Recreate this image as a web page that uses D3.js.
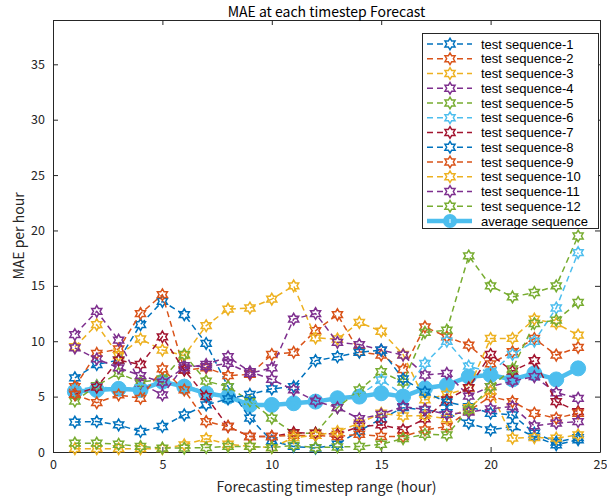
<!DOCTYPE html>
<html><head><meta charset="utf-8">
<script src="https://cdn.jsdelivr.net/npm/d3@7"></script>
<style>
body{margin:0;background:#fff;}
svg{font-family:"Noto Sans CJK JP","Noto Sans",sans-serif;}
</style></head>
<body><svg id="c" width="607" height="500"></svg>
<script>
const steps = d3.range(1, 25);
const xTicks = [0, 5, 10, 15, 20, 25];
const yTicks = [0, 5, 10, 15, 20, 25, 30, 35];
const seriesNames = ["test sequence-1","test sequence-2","test sequence-3","test sequence-4","test sequence-5","test sequence-6","test sequence-7","test sequence-8","test sequence-9","test sequence-10","test sequence-11","test sequence-12"];
const seriesColors = ["#0072BD","#D95319","#EDB120","#7E2F8E","#77AC30","#4DBEEE","#A2142F","#0072BD","#D95319","#EDB120","#7E2F8E","#77AC30"];
const seq1  = [6.7,7.9,8.3,11.5,13.6,12.4,9.8,5.9,3.05,1.0,0.5,0.35,0.7,1.9,3.0,4.0,3.8,3.55,2.6,2.0,2.3,1.4,0.65,1.1];
const seq2  = [5.9,8.9,9.3,12.5,14.2,7.4,7.6,6.9,7.0,8.8,9.0,10.95,12.4,9.05,8.75,7.45,11.3,10.4,9.65,7.95,9.05,10.25,8.75,9.45];
const seq3  = [9.5,11.5,8.7,10.2,9.2,8.7,11.4,12.9,13.0,13.8,15.0,10.3,10.2,11.7,10.9,8.8,4.7,5.2,5.75,10.25,10.25,12.0,11.6,10.55];
const seq4  = [10.6,12.7,10.1,6.2,5.15,7.8,7.7,8.0,7.1,7.6,12.0,12.5,9.9,9.7,9.2,8.75,6.95,7.1,5.05,5.9,6.4,6.8,5.35,4.85];
const seq5  = [4.6,6.0,7.1,6.3,6.6,8.8,6.4,5.9,4.6,3.05,1.7,1.7,4.0,5.6,7.25,6.3,10.8,11.0,17.7,15.0,14.0,14.4,15.0,19.5];
const seq6  = [5.6,5.9,5.7,5.8,6.4,6.0,5.4,5.1,4.3,4.2,4.5,4.5,4.9,5.1,6.5,5.2,8.0,10.0,7.75,7.2,8.8,10.0,13.0,18.0];
const seq7  = [5.2,5.85,8.3,7.9,10.4,7.4,5.0,2.3,1.4,1.4,1.75,1.7,1.6,2.3,2.45,2.0,3.0,4.7,5.8,8.8,7.3,8.25,4.55,3.65];
const seq8  = [2.7,2.75,2.45,1.85,2.3,3.35,4.25,4.8,5.2,5.7,5.9,8.25,8.6,9.0,9.2,6.6,5.4,4.5,4.1,3.5,3.35,1.7,0.9,1.3];
const seq9  = [5.2,4.45,5.15,4.85,7.5,5.6,2.75,2.3,1.4,1.4,1.5,1.5,1.4,1.6,1.4,1.4,2.0,2.3,3.7,5.0,4.55,3.5,3.05,3.5];
const seq10 = [0.3,0.3,0.3,0.3,0.3,0.65,1.2,0.7,0.5,0.4,1.3,1.5,1.85,2.6,3.5,3.25,3.3,3.0,4.0,5.5,1.25,1.3,1.25,1.55];
const seq11 = [9.4,8.4,7.6,6.9,6.3,7.6,7.9,8.6,7.25,6.55,5.6,4.6,4.0,3.0,3.4,4.1,3.85,3.4,3.6,3.9,4.1,2.35,2.6,2.75];
const seq12 = [0.8,0.8,0.7,0.5,0.35,0.35,0.4,0.5,0.5,0.4,0.6,0.4,0.45,0.5,0.7,1.2,1.6,1.55,3.8,5.9,7.5,11.6,11.9,13.5];
const avgSeq = [5.45,5.6,5.7,5.6,6.35,5.9,5.3,5.0,4.25,4.25,4.4,4.55,4.85,5.0,5.3,5.0,5.75,6.05,6.8,6.95,6.55,7.1,6.55,7.55];
const allSeq = [seq1,seq2,seq3,seq4,seq5,seq6,seq7,seq8,seq9,seq10,seq11,seq12];

const svg = d3.select("#c");
const L=53,R=600,T=20,B=452;
const x = d3.scaleLinear().domain([0,25]).range([L,R]);
const y = d3.scaleLinear().domain([0,39]).range([B,T]);
const axisColor = "#262626";
const legendFont = '"Liberation Sans","Noto Sans",sans-serif';

function hexagram(r){
  const pts=[];
  const ri = r/Math.sqrt(3);
  for(let k=0;k<12;k++){
    const a = -Math.PI/2 + k*Math.PI/6;
    const rr = (k%2===0)?r:ri;
    pts.push([rr*Math.cos(a), rr*Math.sin(a)]);
  }
  return "M"+pts.map(p=>p[0].toFixed(2)+","+p[1].toFixed(2)).join("L")+"Z";
}
const starPath = hexagram(5.8);

// axes
const gx = svg.append("g").attr("transform",`translate(0,${B})`)
  .call(d3.axisBottom(x).tickValues(xTicks).tickSizeInner(-5).tickSizeOuter(0).tickPadding(8));
const gxt = svg.append("g").attr("transform",`translate(0,${T})`)
  .call(d3.axisTop(x).tickValues(xTicks).tickSizeInner(-5).tickSizeOuter(0).tickFormat(""));
const gy = svg.append("g").attr("transform",`translate(${L},0)`)
  .call(d3.axisLeft(y).tickValues(yTicks).tickSizeInner(-5).tickSizeOuter(0).tickPadding(8));
const gyr = svg.append("g").attr("transform",`translate(${R},0)`)
  .call(d3.axisRight(y).tickValues(yTicks).tickSizeInner(-5).tickSizeOuter(0).tickFormat(""));
[gx,gxt,gy,gyr].forEach(g=>{
  g.selectAll("path").attr("stroke",axisColor).attr("stroke-width",1);
  g.selectAll("line").attr("stroke",axisColor).attr("stroke-width",1);
  g.selectAll("text").attr("fill",axisColor).attr("font-size",12.5).attr("font-family",'"Noto Sans CJK JP","Noto Sans",sans-serif');
});

// average (drawn first)
const line = d3.line().x((d,i)=>x(steps[i])).y(d=>y(d));
const gAvg = svg.append("g");
gAvg.append("path").attr("d",line(avgSeq)).attr("fill","none")
  .attr("stroke","#4DBEEE").attr("stroke-width",4.5).attr("stroke-linejoin","round");
gAvg.selectAll("circle").data(avgSeq).join("circle")
  .attr("cx",(d,i)=>x(steps[i])).attr("cy",d=>y(d)).attr("r",7.5)
  .attr("fill","#4DBEEE").attr("stroke","#4DBEEE").attr("stroke-width",1);

// series
allSeq.forEach((s,k)=>{
  const g = svg.append("g");
  g.append("path").attr("d",line(s)).attr("fill","none")
    .attr("stroke",seriesColors[k]).attr("stroke-width",1.5).attr("stroke-dasharray","6,4");
  g.selectAll("path.m").data(s).join("path").attr("class","m")
    .attr("d",starPath)
    .attr("transform",(d,i)=>`translate(${x(steps[i])},${y(d)})`)
    .attr("fill","none").attr("stroke",seriesColors[k]).attr("stroke-width",1.5);
});

// title and labels
svg.append("text").attr("x",(L+R)/2).attr("y",17).attr("text-anchor","middle")
  .attr("font-size",14).attr("fill","#000").text("MAE at each timestep Forecast");
svg.append("text").attr("x",(L+R)/2).attr("y",492).attr("text-anchor","middle")
  .attr("font-size",14).attr("fill",axisColor).text("Forecasting timestep range (hour)");
svg.append("text").attr("transform",`translate(24,${(T+B)/2}) rotate(-90)`).attr("text-anchor","middle")
  .attr("font-size",14).attr("fill",axisColor).text("MAE per hour");

// legend
const lg = svg.append("g");
const lx0=422, ly0=33, lw=176, lh=195, step=14.75;
lg.append("rect").attr("x",lx0+0.5).attr("y",ly0+0.5).attr("width",lw).attr("height",lh)
  .attr("fill","#fff").attr("stroke",axisColor).attr("stroke-width",1);
const legendItems = seriesNames.concat(["average sequence"]);
legendItems.forEach((name,i)=>{
  const yy = ly0 + 11 + i*step;
  const isAvg = i===12;
  const col = isAvg ? "#4DBEEE" : seriesColors[i];
  if(isAvg){
    lg.append("line").attr("x1",427).attr("x2",472).attr("y1",yy).attr("y2",yy)
      .attr("stroke",col).attr("stroke-width",4.5).attr("stroke-dasharray","22,4,19");
    lg.append("circle").attr("cx",450).attr("cy",yy).attr("r",7).attr("fill",col);
    lg.append("line").attr("x1",450).attr("x2",450).attr("y1",yy-2).attr("y2",yy+2).attr("stroke","#fff").attr("stroke-width",1);
  } else {
    lg.append("line").attr("x1",427).attr("x2",472).attr("y1",yy).attr("y2",yy)
      .attr("stroke",col).attr("stroke-width",1.5).attr("stroke-dasharray","6,4");
    lg.append("path").attr("d",starPath).attr("transform",`translate(450,${yy})`)
      .attr("fill","#fff").attr("stroke",col).attr("stroke-width",1.5);
  }
  lg.append("text").attr("x",481).attr("y",yy+4.5).attr("font-size",13).attr("font-family",legendFont)
    .attr("fill","#000").text(name);
});
</script></body></html>
